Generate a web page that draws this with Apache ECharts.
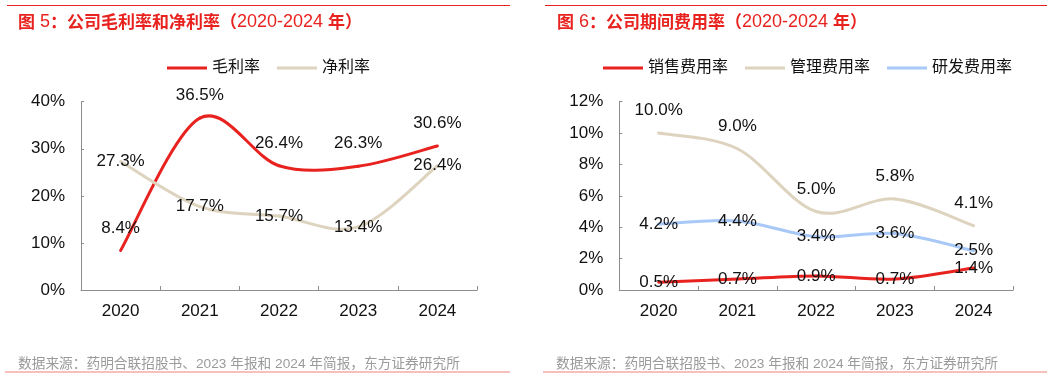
<!DOCTYPE html>
<html><head><meta charset="utf-8">
<script src="https://cdn.jsdelivr.net/npm/echarts@6/dist/echarts.min.js"></script>
<style>html,body{margin:0;padding:0;background:#fff}#c{width:1061px;height:378px}</style>
</head><body><div id="c"></div>
<script>
const years = ['2020','2021','2022','2023','2024'];
const grossMargin = [8.4, 36.5, 26.4, 26.3, 30.6];
const netMargin = [27.3, 17.7, 15.7, 13.4, 26.4];
const salesExp = [0.5, 0.7, 0.9, 0.7, 1.4];
const adminExp = [10.0, 9.0, 5.0, 5.8, 4.1];
const rdExp = [4.2, 4.4, 3.4, 3.6, 2.5];
const leftTicks = {min:0, max:40, interval:10};
const rightTicks = {min:0, max:12, interval:2};

const FONT = '"Liberation Sans", Arial, "Noto Sans CJK SC", sans-serif';
const RED = '#e8231f', BEIGE = '#ddd3be', BLUE = '#a8c8f8';
const chart = echarts.init(document.getElementById('c'), null, {renderer:'canvas'});

function yAxis(idx, t){
  return {gridIndex:idx, type:'value', min:t.min, max:t.max, interval:t.interval,
    axisLine:{show:true, lineStyle:{color:'#8c8c8c', width:1}},
    axisTick:{show:true, inside:true, length:3, lineStyle:{color:'#8c8c8c'}},
    splitLine:{show:false},
    axisLabel:{formatter:'{value}%', color:'#111', fontSize:17, fontFamily:FONT, margin:16}};
}
function xAxis(idx){
  return {gridIndex:idx, type:'category', data:years, boundaryGap:true,
    axisLine:{show:true, lineStyle:{color:'#8c8c8c', width:1}},
    axisTick:{show:true, inside:true, length:4, lineStyle:{color:'#8c8c8c'}},
    axisLabel:{color:'#111', fontSize:17, fontFamily:FONT, margin:13}};
}
// smooth curve (Catmull-Rom style, like the office-chart smoothing) drawn via the axis scales
function curve(name, idx, data, color){
  return {name:name, type:'custom', xAxisIndex:idx, yAxisIndex:idx, z:2,
    data:data.map((v,i)=>[i,v]), encode:{x:0, y:1}, clip:false,
    itemStyle:{color:color},
    renderItem:function(params, api){
      const i = params.dataIndex, n = data.length;
      if (i >= n-1) return null;
      const P = k => { k = Math.max(0, Math.min(n-1, k)); return api.coord([k, data[k]]); };
      const p0 = P(i-1), p1 = P(i), p2 = P(i+1), p3 = P(i+2);
      return {type:'bezierCurve',
        shape:{x1:p1[0], y1:p1[1], x2:p2[0], y2:p2[1],
          cpx1:p1[0]+(p2[0]-p0[0])/6, cpy1:p1[1]+(p2[1]-p0[1])/6,
          cpx2:p2[0]-(p3[0]-p1[0])/6, cpy2:p2[1]-(p3[1]-p1[1])/6},
        style:{stroke:color, lineWidth:3, fill:null, lineCap:'round'}};
    }};
}
function labels(name, idx, data, pos){
  return {name:'lbl'+name, type:'line', xAxisIndex:idx, yAxisIndex:idx, data:data, z:5,
    showSymbol:true, symbol:'circle', symbolSize:0.1, itemStyle:{color:'rgba(0,0,0,0)'},
    lineStyle:{width:0, opacity:0}, silent:true,
    label:{show:true, position:pos, distance:14, color:'#111', fontSize:17, fontFamily:FONT,
      formatter:p=>p.value.toFixed(1)+'%'}};
}
const titleRich = {
  c:{color:RED, fontSize:17, fontWeight:'bold', fontFamily:'"Noto Sans CJK SC", sans-serif'},
  d:{color:RED, fontSize:18, fontWeight:'normal', fontFamily:'"Liberation Sans", Arial, sans-serif'}
};
const srcStyle = {color:'#9a9a9a', fontSize:13.7, fontWeight:'normal', fontFamily:FONT};
const srcText = '数据来源：药明合联招股书、2023 年报和 2024 年简报，东方证券研究所';
chart.setOption({
  animation:false,
  title:[
    {text:'{c|图}{d| 5}{c|：公司毛利率和净利率（}{d|2020-2024 }{c|年）}', left:13, top:8, textStyle:{rich:titleRich}},
    {text:'{c|图}{d| 6}{c|：公司期间费用率（}{d|2020-2024 }{c|年）}', left:552, top:8, textStyle:{rich:titleRich}},
    {text:srcText, left:13, top:352, textStyle:srcStyle},
    {text:srcText, left:551, top:352, textStyle:srcStyle}
  ],
  legend:[
    {data:['毛利率','净利率'], left:162, top:55, itemWidth:40, itemHeight:3, itemGap:17, icon:'rect',
      textStyle:{fontSize:16, color:'#111', fontFamily:FONT}},
    {data:['销售费用率','管理费用率','研发费用率'], left:598, top:55, itemWidth:40, itemHeight:3, itemGap:17, icon:'rect',
      textStyle:{fontSize:16, color:'#111', fontFamily:FONT}}
  ],
  grid:[
    {left:81, top:101.7, width:396, height:188.3},
    {left:619.3, top:101.7, width:393.7, height:188.3}
  ],
  xAxis:[xAxis(0), xAxis(1)],
  yAxis:[yAxis(0, leftTicks), yAxis(1, rightTicks)],
  series:[
    curve('毛利率', 0, grossMargin, RED),
    curve('净利率', 0, netMargin, BEIGE),
    curve('销售费用率', 1, salesExp, RED),
    curve('管理费用率', 1, adminExp, BEIGE),
    curve('研发费用率', 1, rdExp, BLUE),
    labels('毛利率', 0, grossMargin, 'top'),
    labels('净利率', 0, netMargin, 'inside'),
    labels('销售费用率', 1, salesExp, 'inside'),
    labels('管理费用率', 1, adminExp, 'top'),
    labels('研发费用率', 1, rdExp, 'inside')
  ],
  graphic:[
    {type:'line', shape:{x1:7, y1:5.5, x2:510, y2:5.5}, style:{stroke:RED, lineWidth:1}},
    {type:'line', shape:{x1:545, y1:5.5, x2:1047, y2:5.5}, style:{stroke:RED, lineWidth:1}},
    {type:'line', shape:{x1:5, y1:372, x2:510, y2:372}, style:{stroke:'#f08078', lineWidth:1}},
    {type:'line', shape:{x1:543, y1:372, x2:1047, y2:372}, style:{stroke:'#f08078', lineWidth:1}}
  ]
});
</script></body></html>
